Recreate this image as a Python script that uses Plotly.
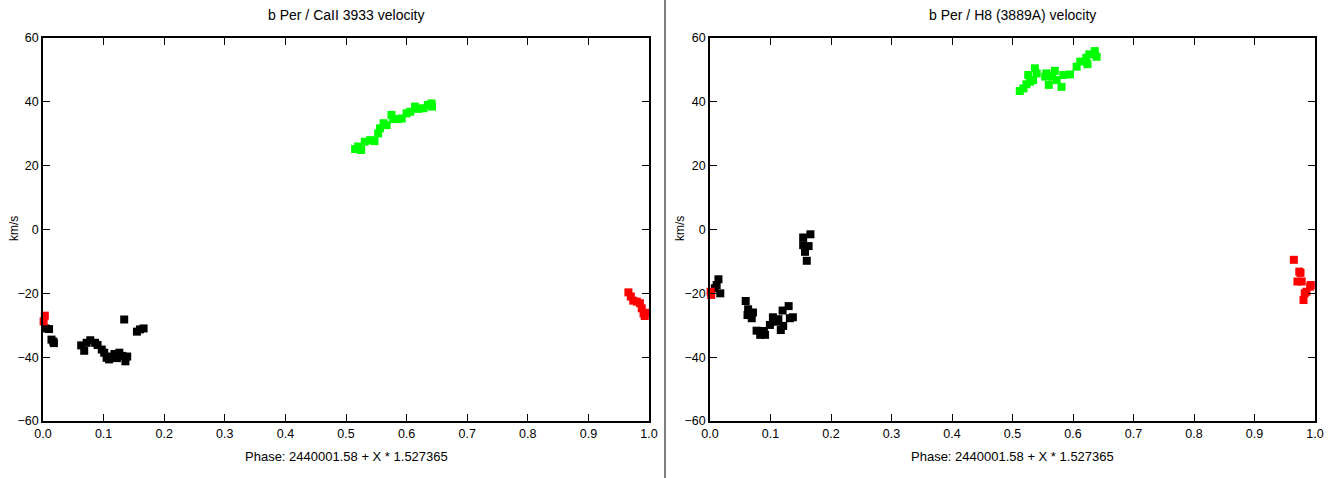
import plotly.graph_objects as go

# ---- Left panel: Ca II 3933 ----
ca_black_phase = [0.004, 0.010, 0.014, 0.017, 0.018, 0.063, 0.068, 0.072, 0.078, 0.086, 0.090,
                  0.097, 0.101, 0.105, 0.109, 0.113, 0.118, 0.122, 0.126, 0.131, 0.134,
                  0.136, 0.139, 0.155, 0.160, 0.166]
ca_black_v = [-31.0, -31.2, -34.5, -35.1, -35.6, -36.3, -38.0, -35.5, -34.7, -35.5, -36.2,
              -37.6, -38.6, -40.2, -40.7, -39.8, -39.0, -40.3, -38.6, -39.6, -28.2,
              -41.3, -39.8, -32.0, -31.3, -31.0]

ca_red_phase = [0.003, 0.001, 0.966, 0.970, 0.974, 0.980, 0.985, 0.988, 0.991, 0.993, 0.996]
ca_red_v = [-27.0, -28.8, -19.7, -21.0, -22.3, -22.6, -23.1, -24.7, -26.3, -27.1, -26.1]

ca_green_phase = [0.515, 0.520, 0.525, 0.531, 0.540, 0.547, 0.553, 0.556, 0.562, 0.567, 0.575,
                  0.578, 0.586, 0.592, 0.600, 0.606, 0.614, 0.619, 0.628, 0.635, 0.641, 0.642]
ca_green_v = [25.2, 26.0, 24.9, 27.5, 28.0, 27.7, 30.1, 31.7, 33.3, 32.7, 35.9,
              34.6, 34.6, 34.8, 36.4, 36.9, 38.5, 37.8, 38.0, 39.0, 39.5, 38.5]

# ---- Right panel: H8 (3889A) ----
h8_black_phase = [0.008, 0.011, 0.014, 0.017, 0.059, 0.062, 0.063, 0.069, 0.071, 0.077, 0.083,
                  0.089, 0.091, 0.099, 0.104, 0.109, 0.113, 0.117, 0.120, 0.121, 0.130,
                  0.132, 0.137, 0.154, 0.154, 0.157, 0.160, 0.163, 0.166]
h8_black_v = [-18.4, -17.4, -15.6, -20.0, -22.4, -26.8, -25.0, -27.8, -26.0, -31.7, -33.0,
              -31.8, -33.0, -29.9, -27.5, -28.9, -28.1, -31.5, -25.4, -30.2, -24.0,
              -27.8, -27.5, -2.5, -4.9, -7.0, -9.8, -5.2, -1.5]

h8_red_phase = [0.001, 0.002, 0.965, 0.971, 0.974, 0.976, 0.978, 0.981, 0.983, 0.986, 0.992, 0.993]
h8_red_v = [-19.5, -20.5, -9.5, -16.3, -13.2, -13.6, -16.3, -22.1, -20.0, -19.5, -17.9, -17.4]

h8_green_phase = [0.512, 0.518, 0.523, 0.526, 0.529, 0.534, 0.537, 0.540, 0.554, 0.556, 0.560,
                  0.566, 0.570, 0.573, 0.581, 0.584, 0.595, 0.606, 0.612, 0.622, 0.624,
                  0.627, 0.636, 0.639]
h8_green_v = [43.4, 44.2, 45.5, 48.4, 46.3, 46.8, 50.5, 48.9, 47.9, 48.9, 45.3,
              47.9, 49.7, 46.8, 44.7, 48.4, 48.6, 51.0, 52.6, 53.8, 51.8,
              54.9, 55.9, 54.1]

titles = ["b Per / CaII 3933 velocity", "b Per / H8 (3889A) velocity"]
x_title = "Phase: 2440001.58 + X * 1.527365"
y_title = "km/s"
x_ticks = [0, 0.1, 0.2, 0.3, 0.4, 0.5, 0.6, 0.7, 0.8, 0.9, 1.0]
x_ticktext = ["0.0", "0.1", "0.2", "0.3", "0.4", "0.5", "0.6", "0.7", "0.8", "0.9", "1.0"]
y_ticks = [-60, -40, -20, 0, 20, 40, 60]

W, H = 1334, 478
FONT = "Liberation Sans, Arial, sans-serif"

fig = go.Figure()

def add_panel(suffix, bp, bv, gp, gv, rp, rv):
    xa = "x" + suffix
    ya = "y" + suffix
    for px, py, col in [(bp, bv, "#000000"), (gp, gv, "#00ff00"), (rp, rv, "#ff0000")]:
        fig.add_trace(go.Scatter(
            x=px, y=py, mode="markers", xaxis=xa, yaxis=ya,
            marker=dict(symbol="square", size=8, color=col, line=dict(width=0)),
            cliponaxis=False, showlegend=False, hoverinfo="x+y"))

add_panel("", ca_black_phase, ca_black_v, ca_green_phase, ca_green_v, ca_red_phase, ca_red_v)
add_panel("2", h8_black_phase, h8_black_v, h8_green_phase, h8_green_v, h8_red_phase, h8_red_v)

ybot = (H - 421) / H
ytop = (H - 38) / H
doms = [(43 / W, 649 / W), (710 / W, 1315 / W)]

axis_common = dict(
    showline=True, linecolor="black", linewidth=1.5, mirror="ticks",
    ticks="inside", ticklen=7, tickwidth=1, tickcolor="black",
    showgrid=False, zeroline=False, automargin=False,
    tickfont=dict(family=FONT, size=12.5, color="black"),
)

layout = dict(
    width=W, height=H, margin=dict(l=0, r=0, t=0, b=0, pad=0), autosize=False,
    paper_bgcolor="white", plot_bgcolor="white",
    font=dict(family=FONT, size=12, color="black"),
    xaxis=dict(domain=list(doms[0]), range=[0, 1], tickvals=x_ticks, ticktext=x_ticktext,
               anchor="y", **axis_common),
    yaxis=dict(domain=[ybot, ytop], range=[-60, 60], tickvals=y_ticks, anchor="x",
               **axis_common),
    xaxis2=dict(domain=list(doms[1]), range=[0, 1], tickvals=x_ticks, ticktext=x_ticktext,
                anchor="y2", **axis_common),
    yaxis2=dict(domain=[ybot, ytop], range=[-60, 60], tickvals=y_ticks, anchor="x2",
                **axis_common),
)
fig.update_layout(**layout)

annots = []
for i, (d0, d1) in enumerate(doms):
    cx = (d0 + d1) / 2
    annots.append(dict(text=titles[i], x=cx, y=1 - 15 / H, xref="paper", yref="paper",
                       showarrow=False, xanchor="center", yanchor="middle",
                       font=dict(family=FONT, size=14, color="black")))
    annots.append(dict(text=x_title, x=cx, y=1 - 456 / H, xref="paper", yref="paper",
                       showarrow=False, xanchor="center", yanchor="middle",
                       font=dict(family=FONT, size=13, color="black")))
lab_x = [14 / W, 680 / W]
for lx in lab_x:
    annots.append(dict(text=y_title, x=lx, y=1 - 229 / H, xref="paper", yref="paper",
                       showarrow=False, xanchor="center", yanchor="middle", textangle=-90,
                       font=dict(family=FONT, size=12, color="black")))
fig.update_layout(annotations=annots)

fig.add_shape(type="line", xref="paper", yref="paper", x0=665 / W, x1=665 / W, y0=0, y1=1,
              line=dict(color="black", width=1))

fig.write_html("out.html", config={"displayModeBar": False},
               post_script="document.body.style.margin='0';document.body.style.padding='0';")
